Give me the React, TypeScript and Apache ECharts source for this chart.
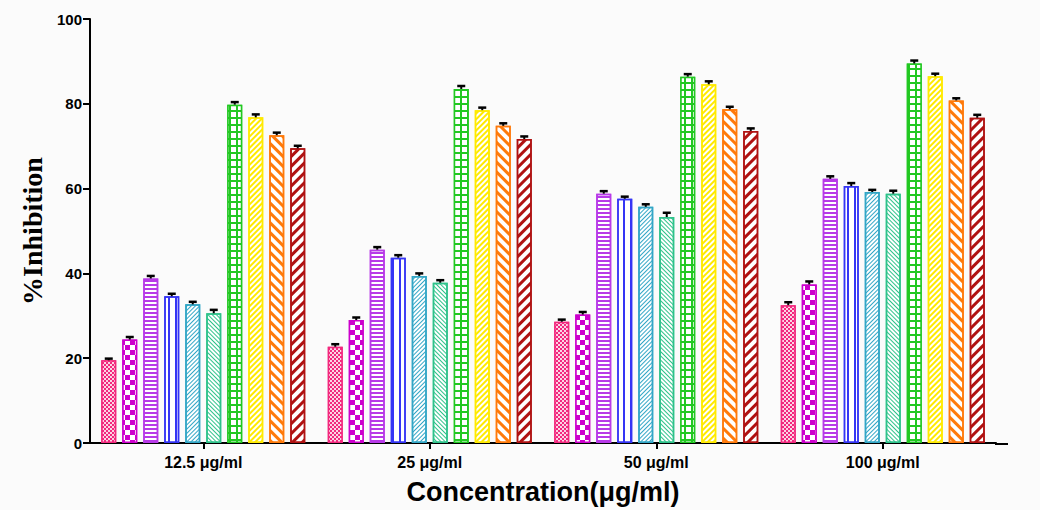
import React, { useEffect, useRef } from "react";
import * as echarts from "echarts";

const categories = ["12.5 μg/ml", "25 μg/ml", "50 μg/ml", "100 μg/ml"];
const yTicks = [0, 20, 40, 60, 80, 100];

const s1 = [19.5, 22.7, 28.6, 32.5];
const s2 = [24.4, 29.0, 30.3, 37.4];
const s3 = [38.8, 45.6, 58.8, 62.3];
const s4 = [34.6, 43.7, 57.6, 60.6];
const s5 = [32.7, 39.4, 55.7, 59.2];
const s6 = [30.6, 37.8, 53.3, 58.8];
const s7 = [79.8, 83.5, 86.4, 89.5];
const s8 = [76.8, 78.5, 84.6, 86.5];
const s9 = [72.6, 74.8, 78.7, 80.8];
const s10 = [69.5, 71.7, 73.6, 76.7];

const e1 = [0.4, 0.6, 0.5, 0.7];
const e2 = [0.6, 0.6, 0.6, 0.7];
const e3 = [0.6, 0.6, 0.6, 0.6];
const e4 = [0.6, 0.6, 0.5, 0.7];
const e5 = [0.6, 0.6, 0.6, 0.5];
const e6 = [0.8, 0.6, 1.0, 0.7];
const e7 = [0.6, 0.7, 0.6, 0.7];
const e8 = [0.7, 0.6, 0.7, 0.6];
const e9 = [0.6, 0.6, 0.6, 0.5];
const e10 = [0.6, 0.6, 0.6, 0.7];

const seriesValues = [s1, s2, s3, s4, s5, s6, s7, s8, s9, s10];
const seriesErrors = [e1, e2, e3, e4, e5, e6, e7, e8, e9, e10];
const seriesNames = ["A", "B", "C", "D", "E", "F", "G", "H", "I", "J"];
const seriesColors = [
  "#f2287e",
  "#cc00cc",
  "#b83ae8",
  "#3535f5",
  "#32a6c6",
  "#2ec28a",
  "#22c822",
  "#ffea00",
  "#ff7a0a",
  "#b01212",
];

const BW = 15;
const GAP = 6;

function styleFor(i: number) {
  const c = seriesColors[i];
  const base: any = { borderColor: c, borderWidth: 1.5 };
  switch (i) {
    case 0:
      return {
        ...base,
        color: c,
        decal: {
          symbol: "rect",
          color: "rgba(255,255,255,0.8)",
          dashArrayX: [[2, 2], [0, 2, 2, 0]],
          dashArrayY: [2, 0],
          symbolSize: 1,
        },
      };
    case 1:
      return {
        ...base,
        color: c,
        decal: {
          symbol: "rect",
          color: "#ffffff",
          dashArrayX: [[5, 5], [0, 5, 5, 0]],
          dashArrayY: [5, 0],
          symbolSize: 1,
        },
      };
    case 2:
      return {
        ...base,
        color: "#ffffff",
        decal: { symbol: "rect", color: c, dashArrayX: [1, 0], dashArrayY: [2, 2], symbolSize: 1 },
      };
    case 3:
      return {
        ...base,
        color: "#ffffff",
        decal: { symbol: "rect", color: c, dashArrayX: [2, 5], dashArrayY: [1, 0], symbolSize: 1 },
      };
    case 4:
      return {
        ...base,
        color: "#ffffff",
        decal: { symbol: "rect", color: c, dashArrayX: [1, 0], dashArrayY: [1, 2], symbolSize: 1, rotation: -Math.PI / 4 },
      };
    case 5:
      return {
        ...base,
        color: "#ffffff",
        decal: { symbol: "rect", color: c, dashArrayX: [1, 0], dashArrayY: [1, 2], symbolSize: 1, rotation: Math.PI / 4 },
      };
    case 6:
      return {
        ...base,
        color: c,
        decal: { symbol: "rect", color: "#ffffff", dashArrayX: [5, 2], dashArrayY: [5, 2], symbolSize: 1 },
      };
    case 7:
      return {
        ...base,
        color: "#ffffff",
        decal: { symbol: "rect", color: c, dashArrayX: [1, 0], dashArrayY: [2, 2], symbolSize: 1, rotation: -Math.PI / 4 },
      };
    case 8:
      return {
        ...base,
        color: "#ffffff",
        decal: { symbol: "rect", color: c, dashArrayX: [1, 0], dashArrayY: [3, 4], symbolSize: 1, rotation: Math.PI / 4 },
      };
    default:
      return {
        ...base,
        color: "#ffffff",
        decal: { symbol: "rect", color: c, dashArrayX: [1, 0], dashArrayY: [3, 4], symbolSize: 1, rotation: -Math.PI / 4 },
      };
  }
}

export default function App() {
  const ref = useRef<HTMLDivElement>(null);
  useEffect(() => {
    if (!ref.current) return;
    const chart = echarts.init(ref.current, undefined, { renderer: "svg" });
    const n = seriesValues.length;
    const groupW = n * BW + (n - 1) * GAP;

    const barSeries = seriesValues.map((vals, i) => ({
      type: "bar",
      name: seriesNames[i],
      data: vals,
      barWidth: BW,
      barGap: (GAP / BW) * 100 + "%",
      itemStyle: styleFor(i),
      z: 2,
    }));

    const errData: any[] = [];
    seriesValues.forEach((vals, si) => {
      vals.forEach((v, ci) => {
        errData.push([ci, v, seriesErrors[si][ci], si]);
      });
    });

    const errSeries = {
      type: "custom",
      name: "err",
      data: errData,
      encode: { x: 0, y: 1 },
      z: 5,
      silent: true,
      renderItem: (params: any, api: any) => {
        const ci = api.value(0);
        const v = api.value(1);
        const e = api.value(2);
        const si = api.value(3);
        const base = api.coord([ci, v]);
        const top = api.coord([ci, v + e]);
        const x = base[0] - groupW / 2 + si * (BW + GAP) + BW / 2;
        return {
          type: "group",
          children: [
            {
              type: "line",
              shape: { x1: x, y1: base[1], x2: x, y2: top[1] },
              style: { stroke: "#000", lineWidth: 2 },
            },
            {
              type: "line",
              shape: { x1: x - 4, y1: top[1], x2: x + 4, y2: top[1] },
              style: { stroke: "#000", lineWidth: 2.5 },
            },
          ],
        };
      },
    };

    chart.setOption({
      animation: false,
      backgroundColor: "#fbfbfb",
      grid: { left: 90, top: 19, width: 906, height: 425 },
      xAxis: {
        type: "category",
        data: categories,
        axisLine: { show: true, lineStyle: { color: "#000", width: 2 } },
        axisTick: { show: true, alignWithLabel: true, length: 6, lineStyle: { color: "#000", width: 2 } },
        axisLabel: {
          color: "#000",
          fontFamily: "Liberation Sans, Arial, sans-serif",
          fontWeight: "bold",
          fontSize: 16,
          margin: 11,
        },
        name: "Concentration(μg/ml)",
        nameLocation: "middle",
        nameGap: 35,
        nameTextStyle: {
          color: "#000",
          fontFamily: "Liberation Sans, Arial, sans-serif",
          fontWeight: "bold",
          fontSize: 27,
        },
      },
      yAxis: {
        type: "value",
        min: yTicks[0],
        max: yTicks[yTicks.length - 1],
        interval: yTicks[1] - yTicks[0],
        splitLine: { show: false },
        axisLine: { show: true, lineStyle: { color: "#000", width: 2 } },
        axisTick: { show: true, length: 7, lineStyle: { color: "#000", width: 2 } },
        axisLabel: {
          color: "#000",
          fontFamily: "Liberation Sans, Arial, sans-serif",
          fontWeight: "bold",
          fontSize: 15,
          margin: 8,
        },
        name: "%Inhibition",
        nameLocation: "middle",
        nameGap: 42,
        nameTextStyle: {
          color: "#000",
          fontFamily: "Liberation Serif, Times New Roman, serif",
          fontWeight: "bold",
          fontSize: 28,
        },
      },
      graphic: [
        {
          type: "line",
          shape: { x1: 995, y1: 444, x2: 1008, y2: 444 },
          style: { stroke: "#000", lineWidth: 2 },
        },
      ],
      series: [...barSeries, errSeries],
    });
    return () => chart.dispose();
  }, []);
  return (
    <div
      ref={ref}
      style={{ position: "absolute", left: 0, top: 0, width: 1040, height: 510 }}
    />
  );
}
